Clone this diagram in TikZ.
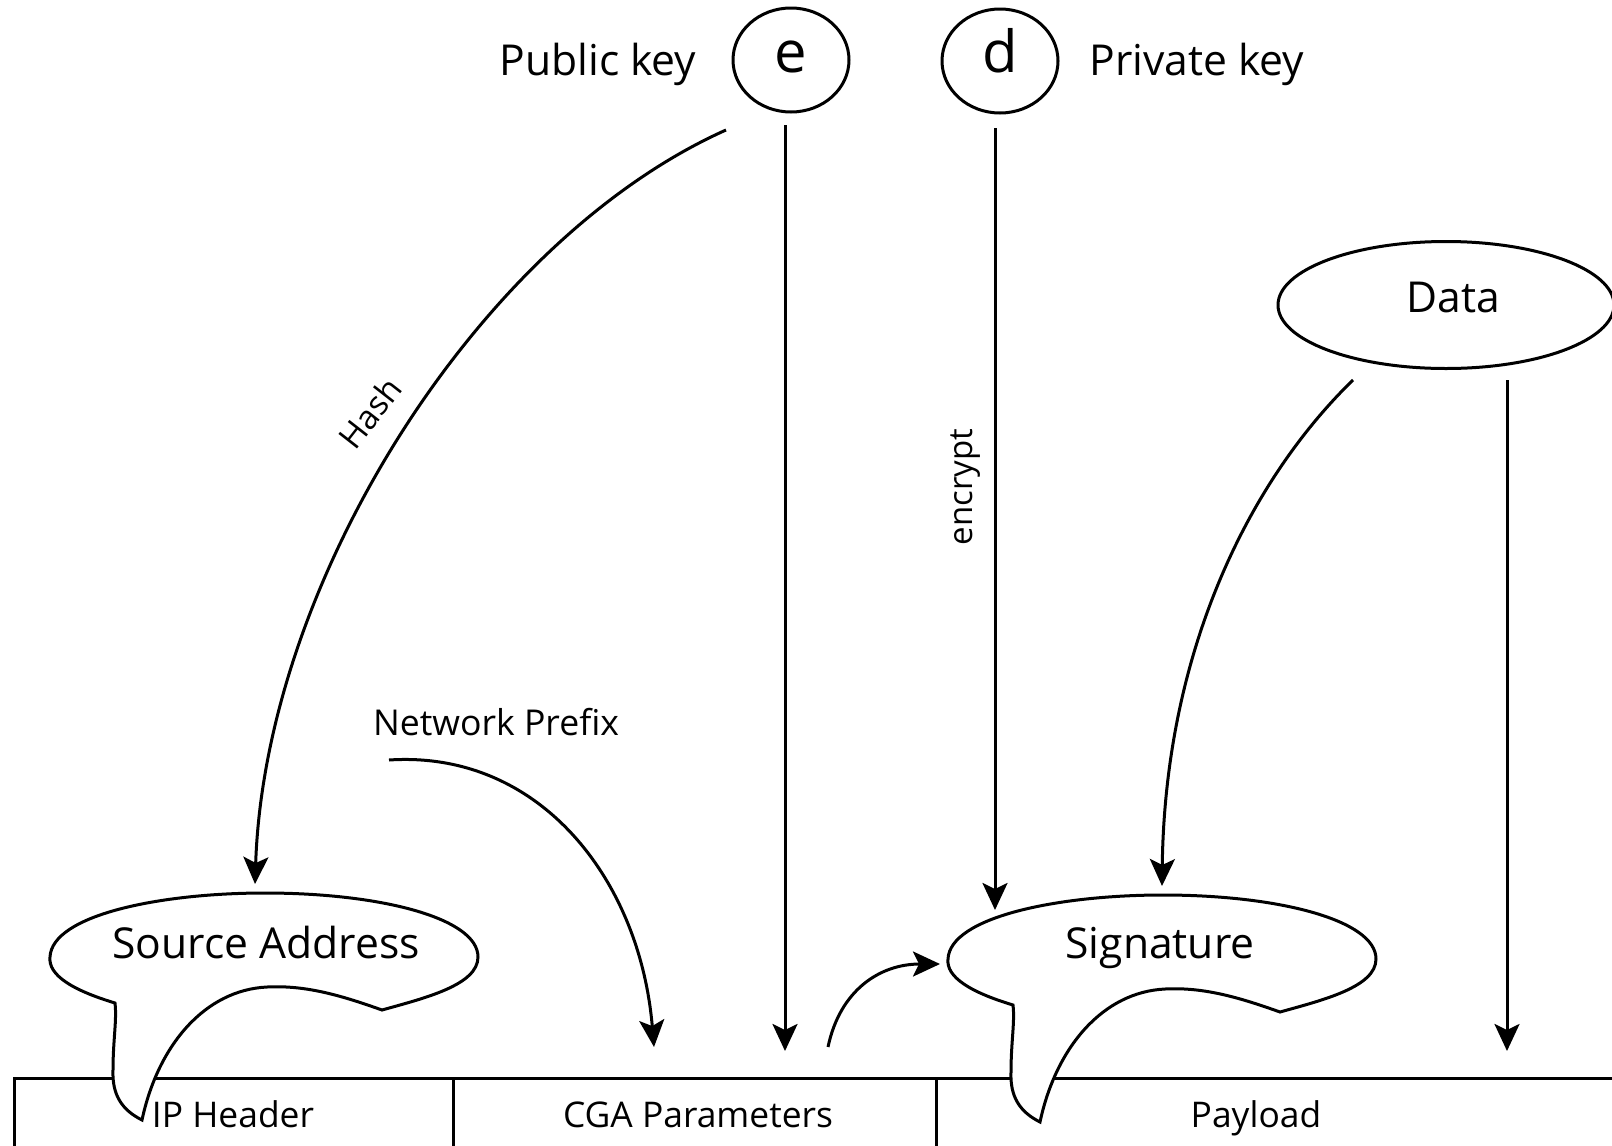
\documentclass[tikz,border=0pt]{standalone}
\usepackage{fontspec}
\setmainfont{Open Sans}
\usetikzlibrary{arrows.meta,shapes.geometric}
\begin{document}
\begin{tikzpicture}[x=0.5pt,y=-0.5pt,
  line width=1.5pt,
  arr/.style={-{Stealth[length=13.5pt,width=12.5pt,inset=3pt]}},
  keycirc/.style={draw,ellipse,minimum width=58pt,minimum height=52pt,inner sep=0pt},
  keylab/.style={font=\fontsize{29}{34}\selectfont,anchor=base,inner sep=0pt},
  biglab/.style={font=\fontsize{21.3}{25}\selectfont,anchor=base,inner sep=0pt},
  midlab/.style={font=\fontsize{17.7}{21}\selectfont,anchor=base,inner sep=0pt},
  smalllab/.style={font=\fontsize{16.5}{19}\selectfont,inner sep=0pt},
  callout/.style={draw,fill=white,line width=1.5pt,line join=miter}]
\useasboundingbox (0,0) rectangle (1612,1146);
% top nodes
\node[keycirc] (e) at (791,60) {};
\node[keylab] (etext) at (791,72) {e};
\node[keycirc] (d) at (1000,61) {};
\node[keylab] (dtext) at (1000,72) {d};
\node[biglab] (pub) at (598,75) {Public key};
\node[biglab] (priv) at (1197,75) {Private key};
\node[draw,ellipse,minimum width=168pt,minimum height=63.5pt,inner sep=0pt] (data) at (1446,305) {};
\node[biglab] (datatext) at (1453,312) {Data};
% table
\draw (14,1146) -- (14,1078) -- (1612,1078);
\draw (453,1078) -- (453,1146);
\draw (936,1078) -- (936,1146);
\node[midlab] (iph) at (233,1127) {IP Header};
\node[midlab] (cga) at (698,1127) {CGA Parameters};
\node[midlab] (pay) at (1256,1127) {Payload};
% callouts
\foreach \dx/\dy in {0/0,898/2}{
\begin{scope}[shift={(\dx,\dy)}]
\draw[callout] (115,1003) .. controls (72,990) and (48,975) .. (50,957)
  .. controls (52,915) and (160,893) .. (265,893)
  .. controls (380,893) and (478,918) .. (478,957)
  .. controls (478,985) and (425,998) .. (382,1010)
  .. controls (340,995) and (305,985) .. (267,987)
  .. controls (205,990) and (158,1045) .. (142,1120)
  .. controls (122,1110) and (112,1095) .. (113,1070)
  .. controls (113,1040) and (117,1020) .. (115,1003) -- cycle;
\end{scope}}
\node[biglab] (src) at (266,958) {Source Address};
\node[biglab] (sig) at (1160,958) {Signature};
% coordinates
\coordinate (hashs) at (726,130);
\coordinate (srctop) at (255,884);
\coordinate (eout) at (785,125);
\coordinate (ein) at (785,1051);
\coordinate (dout) at (995,128);
\coordinate (sigtl) at (995,910);
\coordinate (datas) at (1353,380);
\coordinate (sigtop) at (1162,886);
\coordinate (dataout) at (1507,380);
\coordinate (payin) at (1507,1051);
\coordinate (nps) at (389,760);
\coordinate (npin) at (654,1047);
\coordinate (cgas) at (828,1047);
\coordinate (sigleft) at (940,964);
% connectors
\draw[arr] (hashs) .. controls (480,240) and (265,580) .. (srctop);
\node[smalllab,rotate=52] (hash) at (370,413) {Hash};
\draw[arr] (eout) -- (ein);
\draw[arr] (dout) -- (sigtl);
\node[smalllab,rotate=90,anchor=base] (enc) at (972,487) {encrypt};
\draw[arr] (datas) .. controls (1250,480) and (1165,650) .. (sigtop);
\draw[arr] (dataout) -- (payin);
\node[font=\fontsize{17.8}{21}\selectfont,anchor=base,inner sep=0pt] (np) at (496,735) {Network Prefix};
\draw[arr] (nps) .. controls (540,750) and (640,880) .. (npin);
\draw[arr] (cgas) .. controls (840,990) and (880,964) .. (sigleft);
\end{tikzpicture}
\end{document}
